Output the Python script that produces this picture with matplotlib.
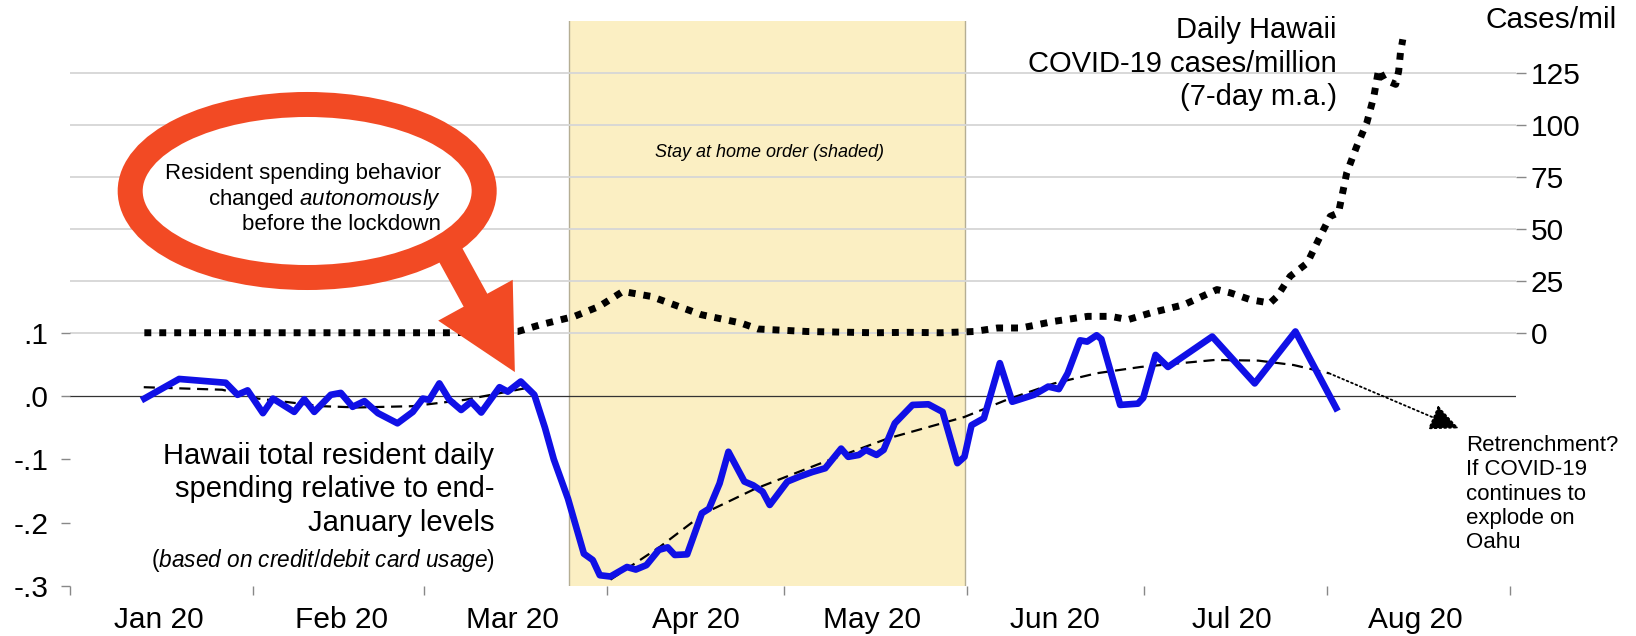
import numpy as np
import matplotlib.pyplot as plt
from matplotlib.patches import Ellipse, FancyArrowPatch

plt.rcParams['font.family'] = ['Liberation Sans', 'DejaVu Sans']
plt.rcParams['mathtext.fontset'] = 'custom'
plt.rcParams['mathtext.rm'] = 'Liberation Sans'
plt.rcParams['mathtext.it'] = 'Liberation Sans:italic'

# x values: days since 1 Jan 2020
spend_day = [12.6, 18.5, 26.4, 28.4, 30.1, 32.7, 34.4, 38.0, 39.7, 41.4, 44.2, 45.9,
             47.9, 49.9, 52.2, 55.5, 58.1, 59.8, 60.9, 62.6, 64.3, 66.3, 68.0, 69.7,
             72.8, 74.2, 76.4, 78.7, 80.5, 82.0, 84.4, 87.1, 88.6, 89.8, 91.6, 94.4,
             95.9, 97.7, 99.8, 101.3, 102.5, 104.6, 107.1, 108.3, 110.1, 111.6, 114.3,
             115.8, 117.4, 118.6, 121.6, 123.7, 125.8, 128.0, 130.7, 131.9, 133.7,
             134.9, 136.7, 137.9, 139.8, 142.8, 145.5, 147.9, 150.4, 151.6, 152.8,
             154.9, 157.6, 159.7, 163.4, 165.8, 167.6, 169.1, 171.2, 172.4, 174.0,
             174.8, 178.0, 181.0, 181.9, 184.0, 186.1, 193.6, 200.8, 207.7, 214.6]
spend_val = [-0.004, 0.027, 0.021, 0.002, 0.009, -0.027, -0.004, -0.025, -0.005, -0.025,
             0.002, 0.005, -0.017, -0.008, -0.027, -0.043, -0.025, -0.004, -0.006, 0.020,
             -0.006, -0.022, -0.009, -0.026, 0.014, 0.007, 0.023, 0.002, -0.050, -0.100,
             -0.162, -0.249, -0.259, -0.283, -0.285, -0.270, -0.274, -0.267, -0.243,
             -0.239, -0.251, -0.250, -0.185, -0.178, -0.138, -0.088, -0.135, -0.141,
             -0.151, -0.172, -0.135, -0.127, -0.120, -0.114, -0.083, -0.096, -0.093,
             -0.085, -0.093, -0.085, -0.043, -0.014, -0.013, -0.025, -0.106, -0.096,
             -0.046, -0.035, 0.052, -0.009, 0.002, 0.015, 0.011, 0.036, 0.088, 0.086,
             0.096, 0.090, -0.014, -0.012, -0.003, 0.065, 0.046, 0.094, 0.020, 0.102,
             -0.019]

# smoothed trend, before and after the drop
trend1_day = [12.5, 25.8, 31.9, 42.7, 48.8, 58.0, 66.9, 74.2, 77.0]
trend1_val = [0.014, 0.010, -0.004, -0.016, -0.018, -0.016, -0.006, 0.007, 0.012]
trend2_day = [91.6, 100.0, 107.5, 116.0, 127.3, 138.6, 151.6, 159.0, 166.8, 174.0,
              181.5, 194.0, 201.4, 207.4, 213.4]
trend2_val = [-0.290, -0.238, -0.185, -0.147, -0.106, -0.067, -0.033, -0.005, 0.020,
              0.036, 0.046, 0.057, 0.056, 0.049, 0.036]

# daily COVID-19 cases per million (7-day m.a.)
case_day = [12.6, 30, 50, 64, 70, 75.9, 79.8, 85.5, 89.7, 93.7, 98.5, 107, 113.7, 116.6,
            125, 136.3, 142, 147.6, 153.2, 157.2, 161.2, 166.8, 172.5, 176.4, 179.3,
            183.1, 188.8, 194.4, 196.7, 200.1, 203.4, 204.6, 206.8, 209.7, 211.9, 213.6,
            215, 216.4, 218.1, 219.8, 221, 221.8, 222.7, 224.7, 225.2, 225.5, 225.9]
case_val = [0, 0, 0, 0, 0.3, 0.6, 3.9, 7.9, 12.7, 19.9, 17.5, 8.7, 4.7, 1.8, 0.6, 0, 0.2,
            0, 0.6, 2.3, 2.3, 5.5, 7.9, 7.9, 6.3, 9.5, 13.5, 20.8, 19.2, 15.9, 14.3, 17.5,
            27.2, 33.6, 46.5, 56.1, 57.8, 77.1, 89.9, 101.2, 114, 126.9, 122.1, 119.7,
            126.1, 135, 141.4]

stay_home = (84.6, 151.7)
month_starts = [0, 31, 60, 91, 121, 152, 182, 213, 244]
label_days = [15, 46, 75, 106, 136, 167, 197, 228]
month_labels = ['Jan 20', 'Feb 20', 'Mar 20', 'Apr 20', 'May 20', 'Jun 20', 'Jul 20', 'Aug 20']
left_ticks = [0.1, 0.0, -0.1, -0.2, -0.3]
left_labels = ['.1', '.0', '-.1', '-.2', '-.3']
right_ticks = [0, 25, 50, 75, 100, 125]

BLUE = '#1010E6'
RED = '#F24A24'
GRAY = '#888888'

fig = plt.figure(figsize=(16.36, 6.36), dpi=100)
ax = fig.add_axes([70 / 1636, 50 / 636, 1445.5 / 1636, 565 / 636])
ax2 = ax.twinx()
ax2.set_zorder(0)
ax.set_zorder(1)
ax.patch.set_visible(False)

ylo, yhi = -0.3, 0.5924
k = 305.1
ax.set_xlim(0, 245)
ax.set_ylim(ylo, yhi)
ax2.set_ylim((ylo - 0.1) * k, (yhi - 0.1) * k)

# back layer: shading, grid, cases
ax2.axvspan(stay_home[0], stay_home[1], color='#FBEFC3', lw=0, zorder=0)
for d in stay_home:
    ax2.axvline(d, color='#B5AE94', lw=1, zorder=1)
for t in right_ticks:
    ax2.axhline(t, color='#D6D6D6', lw=1.3, zorder=2)
ax2.plot(case_day, case_val, color='black', lw=5, ls=(0, (1, 1.15)),
         dash_capstyle='butt', zorder=3)

# front layer
ax.axhline(0, color='#333333', lw=0.9, zorder=1)
ax.plot(trend1_day, trend1_val, color='black', lw=1.6, ls=(0, (5, 3)), zorder=2)
ax.plot(trend2_day, trend2_val, color='black', lw=1.6, ls=(0, (5, 3)), zorder=2)
ax.plot(spend_day, spend_val, color=BLUE, lw=4.8, solid_joinstyle='round', zorder=3)

for a in (ax, ax2):
    for s in a.spines.values():
        s.set_visible(False)

ax.set_yticks(left_ticks)
ax.set_yticklabels(left_labels)
ax.tick_params(axis='y', length=6.5, width=1, color=GRAY, pad=9, labelsize=21.5)
ax.set_xticks(month_starts)
ax.set_xticklabels([''] * len(month_starts))
ax.set_xticks(label_days, minor=True)
ax.set_xticklabels(month_labels, minor=True)
ax.tick_params(axis='x', which='major', length=6.5, width=1, color=GRAY)
ax.tick_params(axis='x', which='minor', length=0, pad=14.5, labelsize=21.5)
ax2.set_yticks(right_ticks)
ax2.tick_params(axis='y', length=7, width=1, color=GRAY, pad=4, labelsize=21.5)

ax2.text(1.0246, 1.002, 'Cases/mil', transform=ax2.transAxes, ha='center',
         va='center', fontsize=21.5)
ax.text(214.7, 0.525, 'Daily Hawaii\nCOVID-19 cases/million\n(7-day m.a.)',
        ha='right', va='center', fontsize=21, linespacing=1.25)
ax.text(71.9, -0.147, 'Hawaii total resident daily\nspending relative to end-\nJanuary levels',
        ha='right', va='center', fontsize=21, linespacing=1.25)
ax.text(72.0, -0.259, '(' + r'$\mathit{based\ on\ credit/debit\ card\ usage}$' + ')',
        ha='right', va='center', fontsize=16.3)
ax.text(118.5, 0.384, 'Stay at home order (shaded)', style='italic', ha='center',
        va='center', fontsize=13)
ax.text(236.6, -0.155, 'Retrenchment?\nIf COVID-19\ncontinues to\nexplode on\nOahu',
        ha='left', va='center', fontsize=16, linespacing=1.2)

# red callout
ax.add_patch(FancyArrowPatch((63.6, 0.2385), (75.4, 0.0379),
                             arrowstyle='simple,head_length=2.95,head_width=3.06,tail_width=0.97',
                             mutation_scale=20, color=RED, lw=0, shrinkA=0, shrinkB=0,
                             zorder=5))
ax.add_patch(Ellipse((40.2, 0.3239), width=60.0, height=0.2733, facecolor='white',
                     edgecolor=RED, lw=18, zorder=6))
ax.text(62.9, 0.311, 'Resident spending behavior\nchanged ' + r'$\mathit{autonomously}$'
        + '\nbefore the lockdown', ha='right', va='center', fontsize=16,
        linespacing=1.16, zorder=7)

ax.annotate('', xy=(235.4, -0.051), xytext=(213.4, 0.036),
            arrowprops=dict(arrowstyle='-|>,head_length=1.2,head_width=0.55',
                            mutation_scale=15, color='black', lw=1.3, ls=':',
                            shrinkA=0, shrinkB=0))

fig.savefig('out.png', dpi=100, facecolor='white')
